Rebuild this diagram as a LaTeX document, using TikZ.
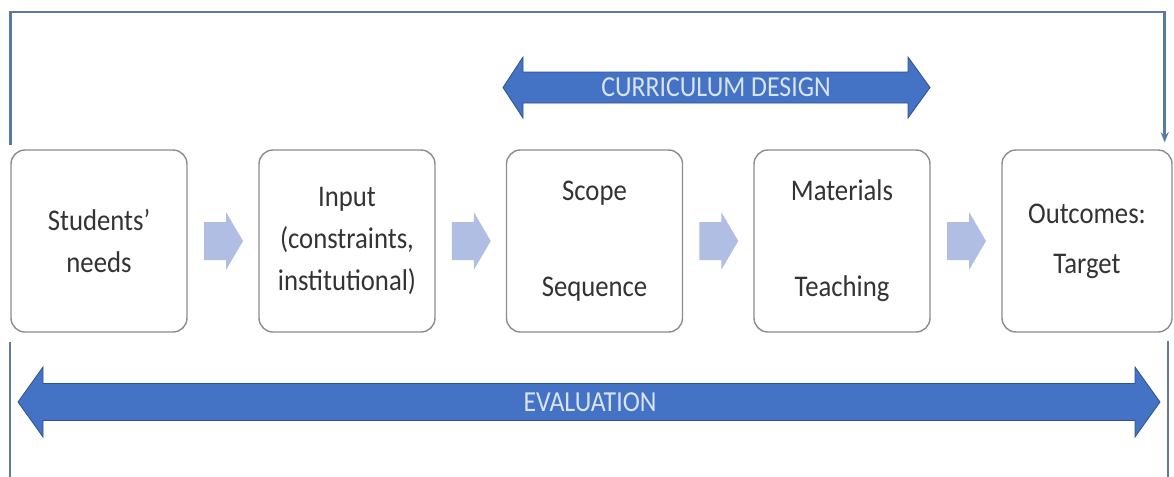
\documentclass[tikz,border=0pt]{standalone}
\usepackage{fontspec}
\setmainfont{Carlito}[FakeStretch=0.89]
\usetikzlibrary{calc,arrows.meta}

\definecolor{bandblue}{HTML}{4472C4}
\definecolor{banddark}{HTML}{2F528F}
\definecolor{bandtext}{HTML}{DAE3F3}
\definecolor{flowblue}{HTML}{B0BEE3}
\definecolor{loopblue}{HTML}{5B7AA1}
\definecolor{boxgray}{HTML}{8C8C8C}
\definecolor{textgray}{HTML}{333333}

\begin{document}
\begin{tikzpicture}[x=0.5pt,y=-0.5pt,
    stage/.style={draw=boxgray, line width=0.7pt, rounded corners=7pt, fill=white,
        minimum width=88pt, minimum height=91pt, align=center, text=textgray,
        font=\fontsize{15}{21}\selectfont},
    band/.style={fill=bandblue, draw=banddark, line width=0.4pt},
    bandlabel/.style={text=bandtext, font=\fontsize{14.5}{17}\selectfont},
    feedback/.style={draw=loopblue, line width=1.4pt},
    sideline/.style={draw=loopblue!80!gray, line width=0.9pt},
    flowarrow/.pic={\fill[flowblue] (-19,-19) -- (3,-19) -- (3,-29) -- (20,0) -- (3,29) -- (3,19) -- (-19,19) -- cycle;}
]
    \path[use as bounding box] (0,0) rectangle (1174,477);

    % Stages
    \node[stage] (needs) at (99,241) {Students’\\needs};
    \node[stage] (input) at (347,241) {Input\\(constraints,\\institutional)};
    \node[stage] (scope) at (594.5,241) {Scope\\[27pt]Sequence};
    \node[stage] (materials) at (842,241) {Materials\\[27pt]Teaching};
    \node[stage, minimum width=85pt] (target) at (1087,241) {Outcomes:\\[4pt]Target};

    % Flow arrows
    \pic at ($(needs.east)!0.5!(input.west)$) {flowarrow};
    \pic at ($(input.east)!0.5!(scope.west)$) {flowarrow};
    \pic at ($(scope.east)!0.5!(materials.west)$) {flowarrow};
    \pic at ($(materials.east)!0.5!(target.west)$) {flowarrow};

    % Curriculum design band
    \path[band] (503,87.5) -- (523,57) -- (523,72) -- (908,72) -- (908,57) -- (930,87.5)
        -- (908,118) -- (908,103) -- (523,103) -- (523,118) -- cycle;
    \node[bandlabel] (design) at (716,87.5) {CURRICULUM DESIGN};

    % Evaluation band
    \path[band] (18,402) -- (43,367) -- (43,383.5) -- (1135,383.5) -- (1135,367) -- (1160,402)
        -- (1135,437) -- (1135,420.5) -- (43,420.5) -- (43,437) -- cycle;
    \node[bandlabel] (evaluation) at (590,402) {EVALUATION};

    % Feedback loop
    \coordinate (top) at (0,12);
    \coordinate (loopend) at ([xshift=-4pt,yshift=3.5pt]target.north east);
    \draw[feedback, -{Stealth[length=5pt,width=4pt]}] ([yshift=2pt]needs.north west) |- (loopend |- top) -- (loopend);

    % Side lines
    \coordinate (bottom) at (0,477);
    \draw[sideline] ([yshift=-4.5pt]needs.south west) -- (needs.south west |- bottom);
    \draw[sideline] ([xshift=-2.5pt,yshift=-4pt]target.south east) -- ([xshift=-2.5pt]target.south east |- bottom);
\end{tikzpicture}
\end{document}
